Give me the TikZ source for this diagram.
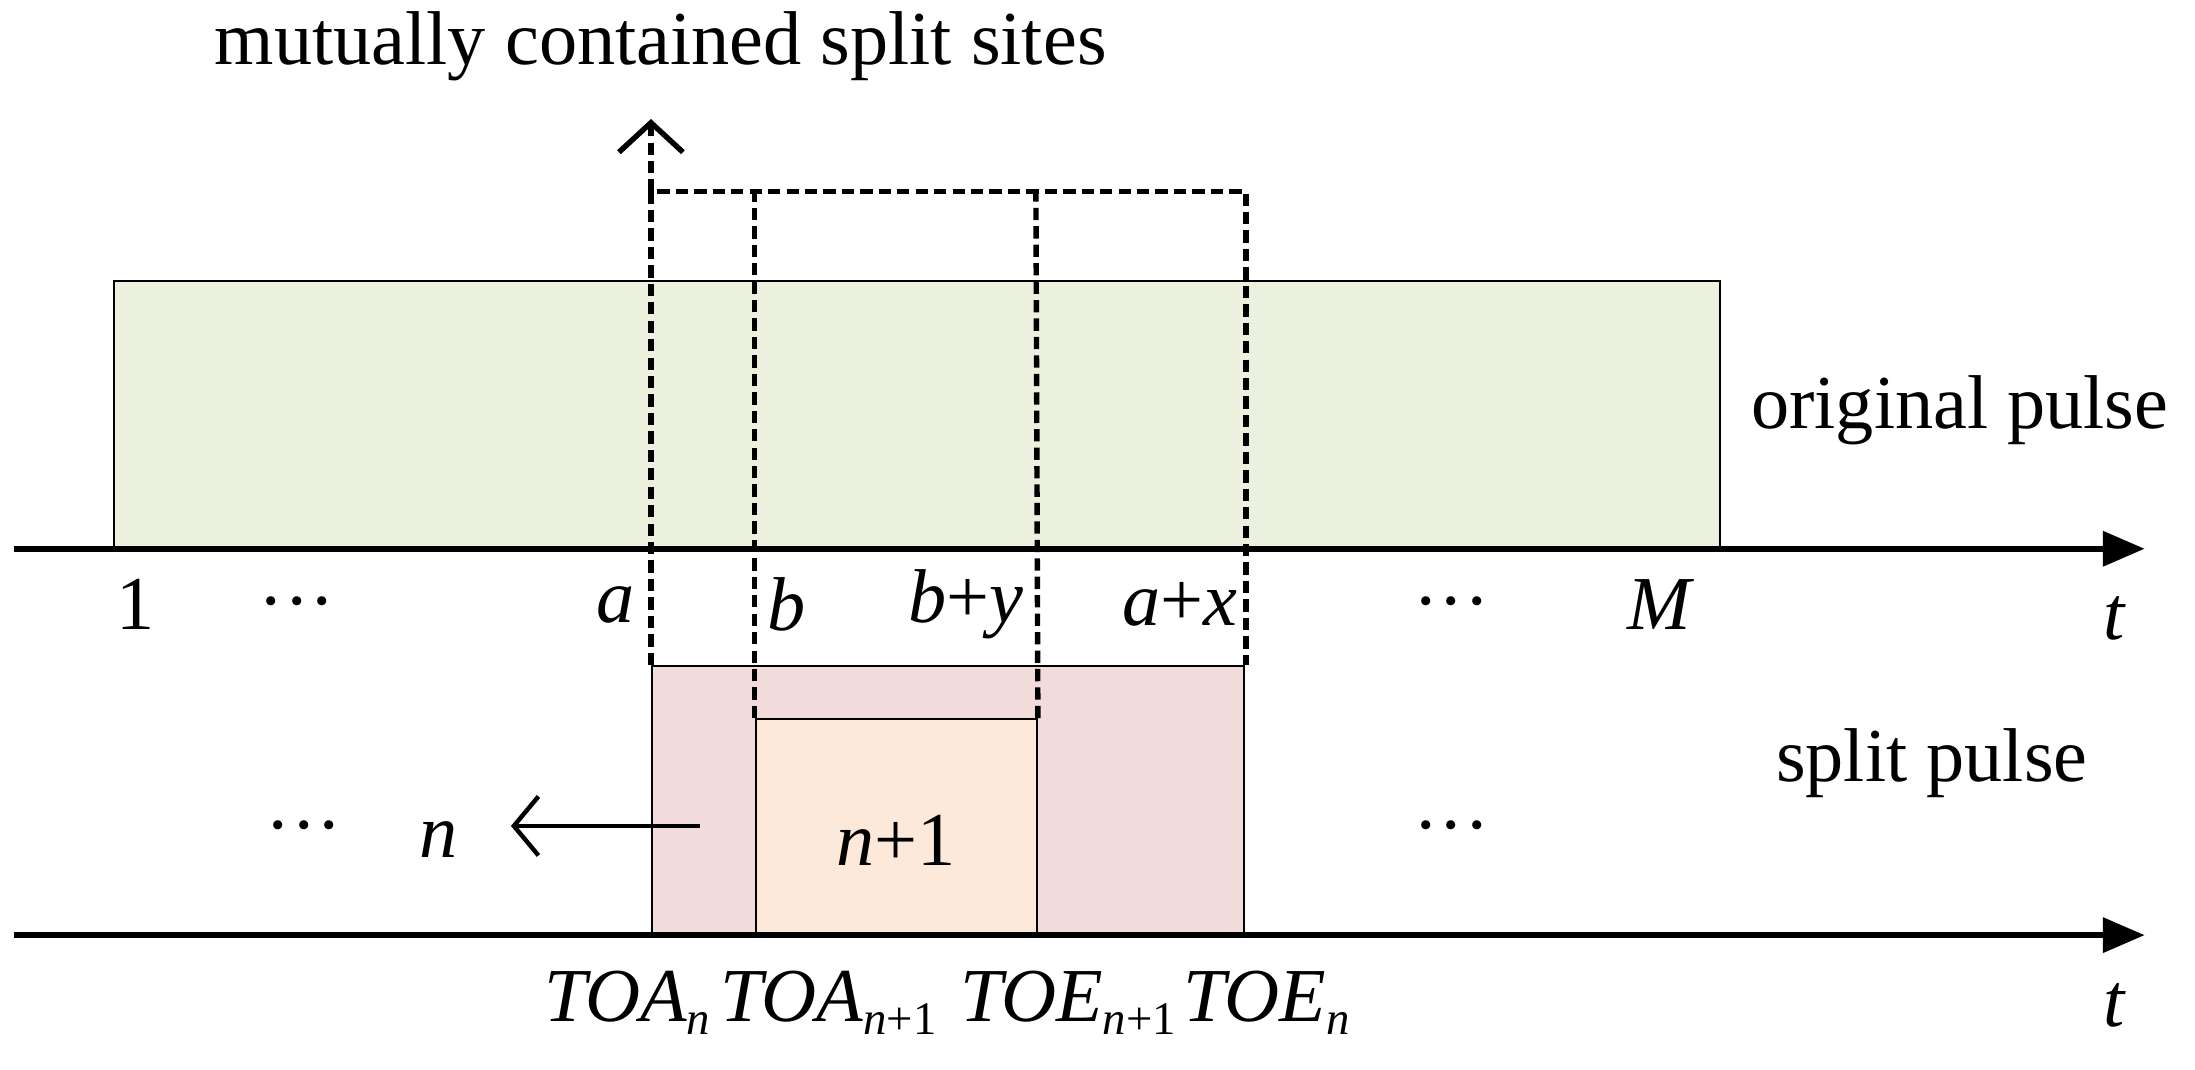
\documentclass[tikz,border=0pt]{standalone}
\usepackage{fontspec}
\setmainfont{Liberation Serif}
\usetikzlibrary{arrows.meta}
\definecolor{gfill}{HTML}{EBF1DE}
\definecolor{pfill}{HTML}{F2DCDB}
\definecolor{ofill}{HTML}{FDE9D9}
\newcommand{\mydots}{\textperiodcentered\textperiodcentered\textperiodcentered}
\newcommand{\mysub}[1]{\raisebox{-0.35ex}{\fontsize{19}{22}\selectfont\itshape #1}}
\begin{document}
\begin{tikzpicture}[x=0.02cm,y=-0.02cm,
  lbl/.style={font=\fontsize{31}{37}\selectfont, inner sep=0pt},
  axis/.style={line width=2.3pt, -{Triangle[length=17pt,width=14pt]}},
  box/.style={draw=black, line width=0.8pt},
  dsh/.style={line width=2.2pt, dash pattern=on 5pt off 2.5pt}]
\useasboundingbox (0,0) rectangle (1568,764);
\node[lbl] (title) at (472,33) {mutually contained split sites};
\node[box, fill=gfill, minimum width=1147*0.02cm, minimum height=192*0.02cm, inner sep=0, anchor=north west] (orig) at (81,200) {};
\node[box, fill=pfill, minimum width=423*0.02cm, minimum height=193*0.02cm, inner sep=0, anchor=north west] (split) at (465,475) {};
\node[box, fill=ofill, minimum width=201*0.02cm, minimum height=155*0.02cm, inner sep=0, anchor=north west] (inner) at (539,513) {};
\coordinate (a1s) at (10,392); \coordinate (a1e) at (1532,392);
\coordinate (a2s) at (10,668); \coordinate (a2e) at (1532,668);
\draw[axis] (a1s) -- (a1e);
\draw[axis] (a2s) -- (a2e);
% dashed outlines
\coordinate (top) at (465,85);
\draw[dsh] (split.north west) -- (465,137) -- (890,137) -- (890,475);
\draw[dsh,-{Straight Barb[length=12pt,width=26pt,line width=2.2pt]}] (465,137) -- (top);
\draw[dsh] (inner.north west) -- (539,137);
\draw[dsh] (inner.north east) -- (740,137);
% axis labels
\node[lbl] (l1) at (97,432) {1};
\node[lbl] (d1) at (212,437) {\mydots};
\node[lbl] (la) at (440,432) {\itshape a};
\node[lbl] (lb) at (562,432) {\itshape b};
\node[lbl] (lby) at (690,432) {\itshape b\upshape+\itshape y};
\node[lbl] (lax) at (843,432) {\itshape a\upshape+\itshape x};
\node[lbl] (d2) at (1037,437) {\mydots};
\node[lbl] (lM) at (1185,432) {\itshape M};
\node[lbl] (t1) at (1510,442) {\itshape t};
\node[lbl] (op) at (1400,293) {original pulse};
\node[lbl] (sp) at (1380,545) {split pulse};
\node[lbl] (d3) at (217,597) {\mydots};
\node[lbl] (d4) at (1037,597) {\mydots};
\node[lbl] (nn) at (313,600) {\itshape n};
\node[lbl] (n1) at (640,600) {\itshape n\upshape+1};
\coordinate (as) at (500,590);
\draw[line width=1.8pt,-{Straight Barb[length=10pt,width=24pt]}] (as) -- (365,590);
\node[lbl] (t2) at (1510,718) {\itshape t};
\node[lbl,anchor=base] (toa) at (448,730) {\itshape TOA\mysub{n}};
\node[lbl,anchor=base] (toa1) at (592,730) {\itshape TOA\mysub{n\upshape+1}};
\node[lbl,anchor=base] (toe1) at (763,730) {\itshape TOE\mysub{n\upshape+1}};
\node[lbl,anchor=base] (toe) at (905,730) {\itshape TOE\mysub{n}};
\end{tikzpicture}
\end{document}
